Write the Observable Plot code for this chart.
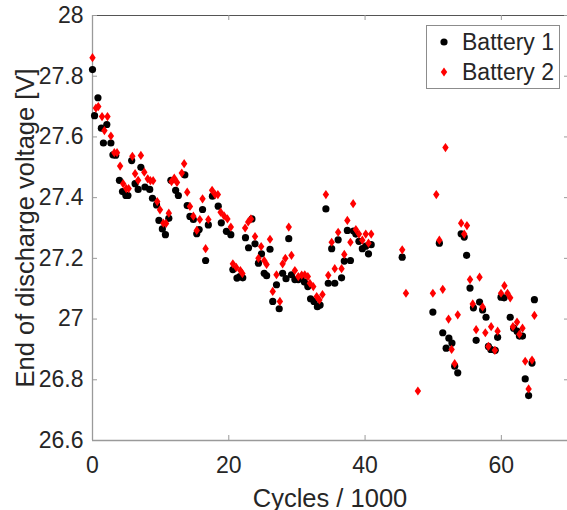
<!DOCTYPE html>
<html>
<head>
<meta charset="utf-8">
<script src="https://cdn.jsdelivr.net/npm/d3@7"></script>
<script src="https://cdn.jsdelivr.net/npm/@observablehq/plot@0.6"></script>
<style>
  body { margin: 0; background: white; }
  #wrap { position: relative; width: 567px; height: 510px; font-family: "Liberation Sans", Arial, sans-serif; color: #262626; }
  #legend { position: absolute; left: 426px; top: 25px; width: 132px; height: 62px; border: 1px solid #8c8c8c; background: white; }
  .entry { position: absolute; left: 0; font-size: 23px; line-height: 23px; white-space: nowrap; }
  .entry svg { position: absolute; left: 10px; top: 0; }
  .entry span { position: absolute; left: 35px; top: 0; }
</style>
</head>
<body>
<div id="wrap">
  <div id="chart"></div>
  <div id="legend">
    <div class="entry" style="top:5px"><svg width="16" height="23"><circle cx="7" cy="11" r="3.6" fill="black"/></svg><span>Battery 1</span></div>
    <div class="entry" style="top:35px"><svg width="16" height="23"><path d="M7,6.4L10.2,11L7,15.6L3.8,11Z" fill="red"/></svg><span>Battery 2</span></div>
  </div>
</div>
<script>
const xTicks = [0, 20, 40, 60];
const yTicks = [26.6, 26.8, 27, 27.2, 27.4, 27.6, 27.8, 28];

const cycles1 = [0.0,0.3,0.8,1.3,1.6,2.1,2.7,3.0,3.4,3.95,4.4,4.9,5.2,5.75,6.25,6.7,7.1,7.7,8.4,8.8,9.4,9.75,10.25,10.7,11.2,11.5,12.2,12.6,13.55,13.9,14.3,14.8,15.3,15.65,16.15,16.6,17.0,17.6,18.45,18.9,19.65,20.3,20.6,21.2,21.6,22.05,22.45,22.9,23.4,23.85,24.35,24.8,25.2,25.55,26.05,26.45,27.0,27.4,27.9,28.4,28.8,29.2,29.7,30.2,30.7,31.1,31.6,32.0,32.5,33.0,33.4,34.25,34.6,35.1,35.55,36.05,36.55,36.95,37.4,37.85,38.3,38.65,39.1,39.6,40.1,40.5,40.9,45.45,49.95,50.9,51.4,51.9,52.3,52.75,53.15,53.6,54.1,54.55,54.9,55.4,55.9,56.3,56.8,57.25,57.75,58.1,58.45,59.1,59.45,59.95,60.4,61.3,61.8,62.3,62.65,63.1,63.5,64.0,64.5,64.85];
const voltage1 = [27.822,27.67,27.729,27.629,27.58,27.641,27.58,27.541,27.54,27.457,27.42,27.407,27.407,27.522,27.446,27.427,27.50,27.435,27.427,27.398,27.376,27.325,27.297,27.278,27.332,27.457,27.424,27.407,27.475,27.374,27.338,27.328,27.281,27.295,27.361,27.193,27.31,27.405,27.372,27.317,27.289,27.278,27.163,27.135,27.14,27.136,27.268,27.235,27.33,27.248,27.184,27.215,27.151,27.143,27.23,27.058,27.113,27.034,27.151,27.133,27.265,27.146,27.13,27.13,27.134,27.122,27.107,27.067,27.058,27.041,27.046,27.363,27.118,27.232,27.118,27.261,27.136,27.191,27.292,27.193,27.29,27.28,27.256,27.232,27.24,27.215,27.245,27.204,27.023,27.25,26.955,26.904,26.937,26.921,26.845,26.823,27.281,27.27,27.21,27.102,27.037,26.93,27.056,27.03,27.006,26.91,26.9,26.897,26.94,27.072,27.07,27.006,26.97,26.96,26.944,26.944,26.803,26.748,26.855,27.064];

const cycles2 = [0.0,0.5,0.85,1.4,1.75,2.2,2.7,3.2,3.6,4.05,4.5,4.95,5.3,5.85,6.25,6.7,7.1,7.6,8.1,8.5,8.9,9.5,9.9,10.4,10.8,11.2,11.6,12.0,12.4,13.1,13.45,13.9,14.3,14.8,15.3,15.75,16.15,16.6,17.0,17.55,18.0,18.4,18.8,19.3,19.8,20.3,20.6,21.1,21.7,22.0,22.4,22.85,23.25,23.85,24.35,24.75,25.2,25.55,26.05,26.45,27.0,27.5,27.9,28.3,28.8,29.2,29.7,30.2,30.7,31.15,31.6,31.9,32.4,32.9,33.3,33.75,34.25,34.6,35.1,35.55,36.05,36.55,36.95,37.4,37.85,38.25,38.65,39.1,39.6,40.1,40.5,40.9,45.45,46.0,47.75,49.95,50.45,50.9,51.4,51.8,52.25,52.7,53.15,53.6,54.1,54.55,54.95,55.4,55.8,56.3,56.8,57.25,57.65,58.1,58.5,59.05,59.45,59.95,60.45,60.9,61.3,61.7,62.3,62.65,63.1,63.5,64.0,64.5,64.85];
const voltage2 = [27.861,27.695,27.70,27.667,27.621,27.667,27.603,27.548,27.548,27.504,27.446,27.43,27.43,27.536,27.479,27.457,27.539,27.484,27.462,27.456,27.456,27.387,27.36,27.316,27.315,27.349,27.453,27.464,27.45,27.481,27.512,27.418,27.371,27.339,27.292,27.328,27.396,27.232,27.328,27.424,27.41,27.41,27.352,27.34,27.33,27.303,27.182,27.17,27.16,27.15,27.30,27.32,27.33,27.272,27.2,27.239,27.193,27.18,27.263,27.091,27.146,27.058,27.182,27.2,27.303,27.21,27.16,27.14,27.145,27.146,27.14,27.118,27.107,27.074,27.063,27.081,27.41,27.144,27.253,27.166,27.286,27.166,27.213,27.325,27.253,27.38,27.295,27.28,27.26,27.28,27.25,27.28,27.228,27.085,26.763,27.085,27.41,27.26,27.098,27.565,27.0,26.9,26.853,27.014,27.316,27.28,27.308,27.13,27.05,26.965,27.138,27.04,26.955,26.91,26.975,26.897,26.96,27.085,27.11,27.085,27.07,26.975,26.99,26.95,26.97,26.861,26.77,26.865,27.012];

const battery1 = cycles1.map((x, i) => ({x, y: voltage1[i]}));
const battery2 = cycles2.map((x, i) => ({x, y: voltage2[i]}));

const tallDiamond = {
  draw(context, size) {
    const r = Math.sqrt(size / Math.PI);
    const w = r * 0.8, h = r * 1.15;
    context.moveTo(0, -h);
    context.lineTo(w, 0);
    context.lineTo(0, h);
    context.lineTo(-w, 0);
    context.closePath();
  }
};

const spine = "#9a9a9a";
const fmt = d => String(Math.round(d * 10) / 10);

const chart = Plot.plot({
  width: 567,
  height: 510,
  marginLeft: 92,
  marginTop: 15,
  marginRight: 0,
  marginBottom: 70,
  style: {fontFamily: '"Liberation Sans", Arial, sans-serif', color: "#262626", background: "white"},
  x: {domain: [0, 70], range: [92, 569]},
  y: {domain: [26.6, 28], range: [440, 15]},
  marks: [
    Plot.ruleY([28], {stroke: "#555", strokeWidth: 1}),
    Plot.ruleX([0], {stroke: spine, strokeWidth: 1.3}),
    Plot.ruleY([26.6], {stroke: spine, strokeWidth: 1.3}),
    Plot.tickX(xTicks, {x: d => d, insetTop: 420, stroke: spine}),
    Plot.tickX(xTicks, {x: d => d, insetBottom: 420, stroke: spine}),
    Plot.tickY(yTicks, {y: d => d, insetRight: 470, stroke: spine}),
    Plot.tickY(yTicks, {y: d => d, insetLeft: 472, stroke: spine}),
    Plot.axisX(xTicks, {tickSize: 0, tickPadding: 16, fontSize: 23, tickFormat: fmt, label: null}),
    Plot.axisY(yTicks, {tickSize: 0, tickPadding: 9, fontSize: 23, tickFormat: fmt, label: null}),
    Plot.text(["Cycles / 1000"], {frameAnchor: "bottom", lineAnchor: "bottom", textAnchor: "middle", dy: 66, fontSize: 25.5, fill: "#262626"}),
    Plot.text(["End of discharge voltage [V]"], {frameAnchor: "left", lineAnchor: "bottom", textAnchor: "middle", rotate: -90, dx: -59, fontSize: 25.5, fill: "#262626"}),
    Plot.dot(battery1, {x: "x", y: "y", r: 3.6, fill: "black", stroke: "none"}),
    Plot.dot(battery2, {x: "x", y: "y", r: 4, symbol: tallDiamond, fill: "red", stroke: "none"})
  ]
});
document.getElementById("chart").appendChild(chart);
</script>
</body>
</html>
